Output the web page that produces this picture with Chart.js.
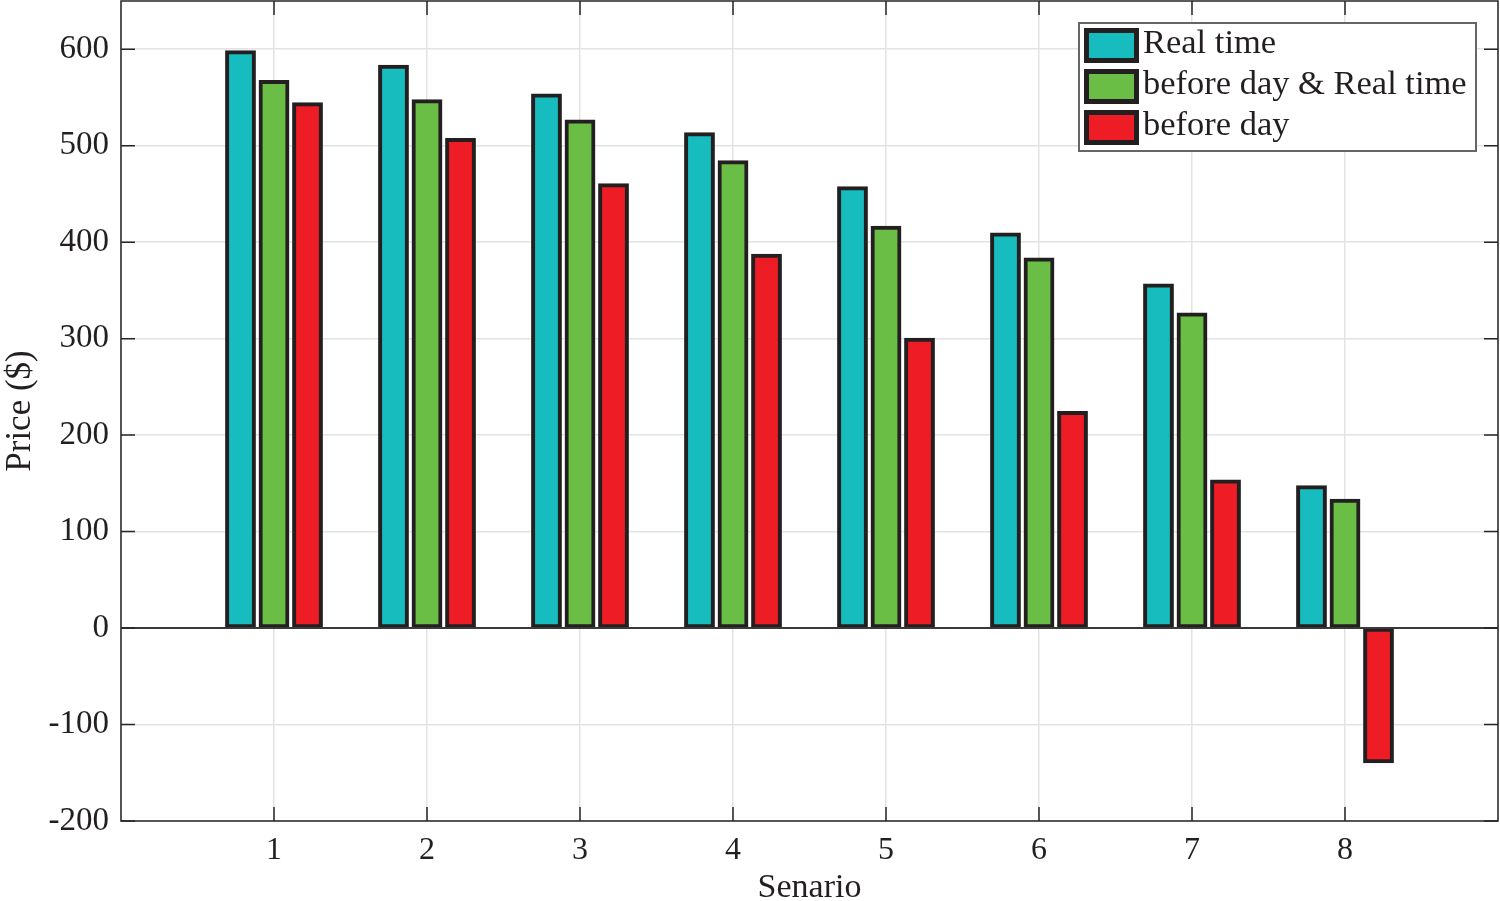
<!DOCTYPE html>
<html>
<head>
<meta charset="utf-8">
<script src="https://cdn.jsdelivr.net/npm/chart.js@4.4.1/dist/chart.umd.min.js"></script>
<style>
  html, body { margin: 0; padding: 0; background: #fff; }
  #wrap { width: 1500px; height: 901px; }
</style>
</head>
<body>
<div id="wrap"><canvas id="myChart" width="1500" height="901"></canvas></div>
<script>
// scenario labels, padded with an empty slot on each side
var scenarios = ['', '1', '2', '3', '4', '5', '6', '7', '8', ''];
var realTime = [null, 598, 583, 553, 513, 457, 409, 356, 147, null];
var beforeAndReal = [null, 567, 547, 526, 484, 416, 383, 326, 133, null];
var beforeDay = [null, 544, 507, 460, 387, 300, 224, 153, -139, null];
var yTicks = [-200, -100, 0, 100, 200, 300, 400, 500, 600];

var seriesNames = ['Real time', 'before day & Real time', 'before day'];
var seriesColors = ['#17BCBE', '#6ABD45', '#EE1C25'];
var edge = '#231F20';
var serif = '"Liberation Serif", "Times New Roman", serif';

// box, inner tick marks and legend drawn on top like the matlab figure
var framePlugin = {
  id: 'frame',
  afterDraw: function(chart) {
    var ctx = chart.ctx, a = chart.chartArea;
    var xs = chart.scales.x, ys = chart.scales.y;
    ctx.save();
    ctx.strokeStyle = '#262626';
    ctx.lineWidth = 1.5;
    ctx.strokeRect(a.left, a.top, a.right - a.left, a.bottom - a.top);
    ctx.beginPath();
    for (var i = 1; i <= 8; i++) {
      var px = xs.getPixelForValue(i);
      ctx.moveTo(px, a.bottom); ctx.lineTo(px, a.bottom - 14);
      ctx.moveTo(px, a.top); ctx.lineTo(px, a.top + 14);
    }
    yTicks.forEach(function(v) {
      var py = ys.getPixelForValue(v);
      ctx.moveTo(a.left, py); ctx.lineTo(a.left + 14, py);
      ctx.moveTo(a.right, py); ctx.lineTo(a.right - 14, py);
    });
    ctx.stroke();

    // legend
    var lx = 1079, ly = 23, lw = 397, lh = 128;
    ctx.fillStyle = '#fff';
    ctx.fillRect(lx, ly, lw, lh);
    ctx.strokeStyle = '#666';
    ctx.lineWidth = 2;
    ctx.strokeRect(lx, ly, lw, lh);
    ctx.font = '33px ' + serif;
    ctx.textBaseline = 'middle';
    for (var k = 0; k < seriesNames.length; k++) {
      var cy = ly + 21 + k * 41;
      ctx.fillStyle = edge;
      ctx.fillRect(lx + 5, cy - 16, 55, 35);
      ctx.fillStyle = seriesColors[k];
      ctx.fillRect(lx + 10, cy - 11, 45, 25);
      ctx.fillStyle = '#231F20';
      // glyphs in the figure are a bit wider than Liberation Serif
      ctx.save();
      ctx.translate(lx + 64, cy);
      ctx.scale(1.045, 1);
      ctx.fillText(seriesNames[k], 0, 0);
      ctx.restore();
    }
    ctx.restore();
  }
};

// zero line sits on top of the bar bottoms
var zeroPlugin = {
  id: 'zero',
  afterDatasetsDraw: function(chart) {
    var ctx = chart.ctx, a = chart.chartArea;
    var py = chart.scales.y.getPixelForValue(0);
    ctx.save();
    ctx.strokeStyle = '#3a3a3a';
    ctx.lineWidth = 2;
    ctx.beginPath();
    ctx.moveTo(a.left, py);
    ctx.lineTo(a.right, py);
    ctx.stroke();
    ctx.restore();
  }
};

function makeSet(label, data, color) {
  return {
    label: label,
    data: data,
    backgroundColor: color,
    borderColor: edge,
    borderWidth: 4,
    borderSkipped: false,
    inflateAmount: 1,
    categoryPercentage: 0.657,
    barPercentage: 0.86
  };
}

var myChart = new Chart(document.getElementById('myChart'), {
  type: 'bar',
  data: {
    labels: scenarios,
    datasets: [
      makeSet(seriesNames[0], realTime, seriesColors[0]),
      makeSet(seriesNames[1], beforeAndReal, seriesColors[1]),
      makeSet(seriesNames[2], beforeDay, seriesColors[2])
    ]
  },
  options: {
    responsive: false,
    animation: false,
    layout: { padding: { top: 1, right: 2, left: 0, bottom: 0 } },
    plugins: {
      legend: { display: false },
      tooltip: { enabled: false }
    },
    scales: {
      x: {
        offset: false,
        grid: { offset: false, color: '#e3e3e3', lineWidth: 1.5, drawTicks: false },
        border: { display: false },
        ticks: { color: '#231F20', font: { family: serif, size: 32 }, padding: 10, maxRotation: 0, autoSkip: false },
        title: { display: true, text: 'Senario', color: '#231F20', font: { family: serif, size: 34, lineHeight: 0.75 }, padding: { top: 8, bottom: 0 } },
        afterFit: function(s) { s.height = 80; s.paddingLeft = 0; s.paddingRight = 0; }
      },
      y: {
        min: -200,
        max: 650,
        afterBuildTicks: function(s) { s.ticks = yTicks.map(function(v) { return { value: v }; }); },
        grid: { color: '#e3e3e3', lineWidth: 1.5, drawTicks: false },
        border: { display: false },
        ticks: { color: '#231F20', font: { family: serif, size: 33 }, padding: 12 },
        title: { display: true, text: 'Price ($)', color: '#231F20', font: { family: serif, size: 35 }, padding: { top: 0, bottom: 8 } },
        afterFit: function(s) { s.width = 121; s.paddingTop = 0; s.paddingBottom = 0; }
      }
    }
  },
  plugins: [framePlugin, zeroPlugin]
});
</script>
</body>
</html>
